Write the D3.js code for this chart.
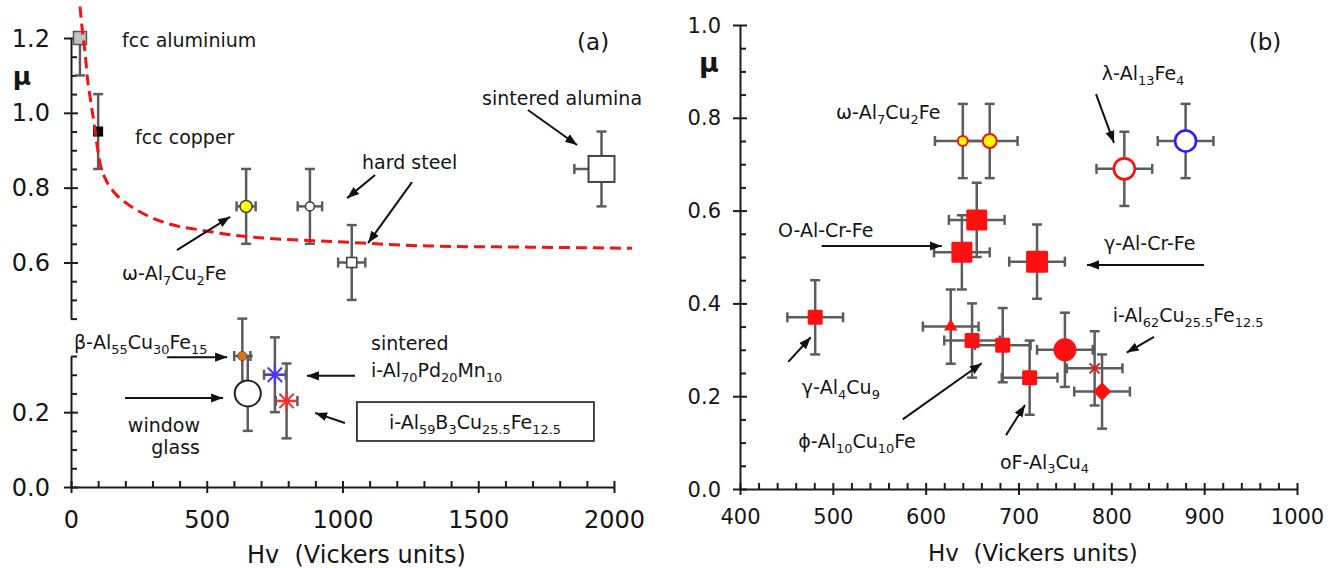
<!DOCTYPE html>
<html>
<head>
<meta charset="utf-8">
<script src="https://cdn.jsdelivr.net/npm/d3@7"></script>
<style>
  body { margin: 0; background: #fff; }
  svg { display: block; }
  text { font-family: "DejaVu Sans", sans-serif; fill: #151515; }
</style>
</head>
<body>
<svg id="fig" width="1339" height="568"></svg>
<script>
// ---------- Panel (a): reference materials ----------
const matA   = ["fcc aluminium", "fcc copper", "omega-Al7Cu2Fe", "hard steel 1", "hard steel 2",
                "sintered alumina", "beta-Al55Cu30Fe15", "window glass",
                "sintered i-Al70Pd20Mn10", "i-Al59B3Cu25.5Fe12.5"];
const hvA    = [33, 100, 645, 880, 1034, 1954, 631, 651, 751, 794];
const muA    = [1.20, 0.95, 0.75, 0.75, 0.60, 0.85, 0.35, 0.25, 0.30, 0.23];
const hvErrA = [0, 0, 35, 45, 50, 100, 30, 30, 40, 40];
const muErrA = [0.10, 0.10, 0.10, 0.10, 0.10, 0.10, 0.10, 0.10, 0.10, 0.10];

// dashed trend curve, read point by point
const curveHv = [33, 43, 52, 60, 72, 85, 95, 107, 129, 162, 205, 266, 352, 475, 598, 721, 966, 1322, 1690, 2066];
const curveMu = [1.284, 1.212, 1.159, 1.096, 1.034, 0.972, 0.918, 0.865, 0.820, 0.785, 0.758, 0.731,
                 0.705, 0.687, 0.673, 0.665, 0.656, 0.644, 0.641, 0.638];

// ---------- Panel (b): Al-based intermetallics ----------
const matB   = ["omega small", "omega large", "O-Al-Cr-Fe", "O-Al-Cr-Fe 2", "gamma-Al-Cr-Fe",
                "lambda-Al13Fe4", "lambda-Al13Fe4 2", "gamma-Al4Cu9", "triangle", "phi-Al10Cu10Fe",
                "square 683", "oF-Al3Cu4", "i-AlCuFe circle", "i-AlCuFe cross", "i-AlCuFe diamond"];
const hvB    = [640, 669, 639, 655, 720, 814, 880, 481, 627, 650, 683, 712, 750, 782, 790];
const muB    = [0.75, 0.75, 0.51, 0.58, 0.49, 0.69, 0.75, 0.37, 0.35, 0.32, 0.31, 0.24, 0.30, 0.26, 0.21];
const hvErrB = [30, 30, 30, 30, 30, 30, 30, 30, 30, 30, 30, 30, 30, 30, 30];
const muErrB = [0.08, 0.08, 0.08, 0.08, 0.08, 0.08, 0.08, 0.08, 0.08, 0.08, 0.08, 0.08, 0.08, 0.08, 0.08];

// tick values
const xTicksA = [0, 500, 1000, 1500, 2000];
const yTicksALow = [0.0, 0.2];
const yTicksAHigh = [0.6, 0.8, 1.0, 1.2];
const xTicksB = [400, 500, 600, 700, 800, 900, 1000];
const yTicksB = [0.0, 0.2, 0.4, 0.6, 0.8, 1.0];

// ---------- marker styles ----------
const RED = "#ff1010";
const styleA = {
  "fcc aluminium":          { shape: "square", s: 13, fill: "#c2c2c2", stroke: "#555", sw: 1.5 },
  "fcc copper":             { shape: "square", s: 9, fill: "#000", stroke: "#000", sw: 1 },
  "omega-Al7Cu2Fe":         { shape: "circle", r: 6, fill: "#ffff00", stroke: "#444", sw: 1.5 },
  "hard steel 1":           { shape: "circle", r: 4.5, fill: "#fff", stroke: "#444", sw: 1.6 },
  "hard steel 2":           { shape: "square", s: 10, fill: "#fff", stroke: "#444", sw: 1.6 },
  "sintered alumina":       { shape: "square", s: 26, fill: "#fff", stroke: "#444", sw: 2 },
  "beta-Al55Cu30Fe15":      { shape: "circle", r: 4.5, fill: "#e8700c", stroke: "#555", sw: 1 },
  "window glass":           { shape: "circle", r: 13, fill: "#fff", stroke: "#222", sw: 2 },
  "sintered i-Al70Pd20Mn10":{ shape: "asterisk", r: 10, stroke: "#4a35ff", sw: 2 },
  "i-Al59B3Cu25.5Fe12.5":   { shape: "asterisk", r: 10, stroke: "#ff2a2a", sw: 2 }
};
const styleB = {
  "omega small":      { shape: "circle", r: 5, fill: "#ffff00", stroke: RED, sw: 2 },
  "omega large":      { shape: "circle", r: 7, fill: "#ffff00", stroke: RED, sw: 2 },
  "O-Al-Cr-Fe":       { shape: "square", s: 21, fill: RED },
  "O-Al-Cr-Fe 2":     { shape: "square", s: 21, fill: RED },
  "gamma-Al-Cr-Fe":   { shape: "square", s: 22, fill: RED },
  "lambda-Al13Fe4":   { shape: "circle", r: 10.5, fill: "#fff", stroke: RED, sw: 2.6 },
  "lambda-Al13Fe4 2": { shape: "circle", r: 10.5, fill: "#fff", stroke: "#2a1cff", sw: 2.6 },
  "gamma-Al4Cu9":     { shape: "square", s: 15, fill: RED },
  "triangle":         { shape: "triangle", s: 12, fill: RED },
  "phi-Al10Cu10Fe":   { shape: "square", s: 15, fill: RED },
  "square 683":       { shape: "square", s: 15, fill: RED },
  "oF-Al3Cu4":        { shape: "square", s: 15, fill: RED },
  "i-AlCuFe circle":  { shape: "circle", r: 11.5, fill: RED },
  "i-AlCuFe cross":   { shape: "x", r: 5, stroke: RED, sw: 2 },
  "i-AlCuFe diamond": { shape: "diamond", s: 13, fill: RED }
};

// ---------- annotations (in data units) ----------
const labelsA = [
  { t: "fcc aluminium", hv: 188, mu: 1.195 },
  { t: "fcc copper", hv: 236, mu: 0.935 },
  { t: "ω-Al_{7}Cu_{2}Fe", hv: 188, mu: 0.572 },
  { t: "hard steel", hv: 1072, mu: 0.8685 },
  { t: "sintered alumina", hv: 1514, mu: 1.04 },
  { t: "β-Al_{55}Cu_{30}Fe_{15}", hv: 11, mu: 0.3875 },
  { t: "window", hv: 475, mu: 0.166, anchor: "end" },
  { t: "glass", hv: 475, mu: 0.107, anchor: "end" },
  { t: "sintered", hv: 1105, mu: 0.385 },
  { t: "i-Al_{70}Pd_{20}Mn_{10}", hv: 1105, mu: 0.313 },
  { t: "i-Al_{59}B_{3}Cu_{25.5}Fe_{12.5}", hv: 1488, mu: 0.174, anchor: "middle" }
];
const arrowsA = [
  [390, 0.633, 586, 0.722],
  [1120, 0.834, 1017, 0.772],
  [1256, 0.815, 1094, 0.652],
  [1683, 1.0075, 1864, 0.914],
  [354, 0.347, 575, 0.347],
  [199, 0.238, 560, 0.238],
  [1046, 0.297, 869, 0.297],
  [1009, 0.171, 899, 0.198]
];
const boxA = [1053, 0.227, 1926, 0.123];

const labelsB = [
  { t: "λ-Al_{13}Fe_{4}", hv: 789.6, mu: 0.8966 },
  { t: "ω-Al_{7}Cu_{2}Fe", hv: 503.4, mu: 0.8125 },
  { t: "O-Al-Cr-Fe", hv: 440.9, mu: 0.558 },
  { t: "γ-Al-Cr-Fe", hv: 792, mu: 0.530 },
  { t: "i-Al_{62}Cu_{25.5}Fe_{12.5}", hv: 801.5, mu: 0.375 },
  { t: "γ-Al_{4}Cu_{9}", hv: 466.5, mu: 0.219 },
  { t: "ϕ-Al_{10}Cu_{10}Fe", hv: 462.8, mu: 0.104 },
  { t: "oF-Al_{3}Cu_{4}", hv: 680, mu: 0.0588 }
];
const arrowsB = [
  [783.5, 0.851, 802.9, 0.746],
  [488, 0.5237, 617.3, 0.5237],
  [899.8, 0.483, 773.8, 0.483],
  [846, 0.328, 816.6, 0.294],
  [452, 0.274, 476.2, 0.327],
  [575.3, 0.150, 660.4, 0.271],
  [686.5, 0.116, 707, 0.181]
];

// ---------- drawing ----------
const svg = d3.select("#fig");
const INK = "#1c1c1c";

svg.append("defs").append("marker")
  .attr("id", "head").attr("viewBox", "0 0 10 10")
  .attr("refX", 10).attr("refY", 5)
  .attr("markerWidth", 12).attr("markerHeight", 12)
  .attr("markerUnits", "userSpaceOnUse").attr("orient", "auto")
  .append("path").attr("d", "M0,1.2 L10,5 L0,8.8 Z").attr("fill", "#111");

const xA = d3.scaleLinear().domain([0, 2000]).range([71, 614]);
const yA = d3.scaleLinear().domain([0, 1.2]).range([487, 38]);
const xB = d3.scaleLinear().domain([400, 1000]).range([740, 1297]);
const yB = d3.scaleLinear().domain([0, 1.0]).range([489, 25]);

function range(a, b, step) {
  const out = [];
  for (let i = 0; a + i * step <= b + 1e-9; i++) out.push(+(a + i * step).toFixed(4));
  return out;
}

function styleAxis(g, size) {
  g.attr("font-family", null).attr("font-size", null);
  g.selectAll("path.domain").attr("stroke", INK).attr("stroke-width", 2);
  g.selectAll(".tick line").attr("stroke", INK).attr("stroke-width", 2);
  g.selectAll(".tick text").attr("font-size", size).attr("fill", "#151515");
}

// x axis with crossing major ticks and inward minor ticks
function xAxis(root, x, y0, majors, minors, size, labelOffset) {
  const g = root.append("g").attr("transform", `translate(0,${y0})`);
  g.append("g").call(d3.axisTop(x).tickValues(minors).tickSize(6).tickSizeOuter(0).tickFormat(""))
    .call(s => s.select("path.domain").remove()).call(s => styleAxis(s, size));
  const ax = g.append("g").call(d3.axisBottom(x).tickValues(majors).tickSize(6).tickSizeOuter(0).tickFormat(d3.format("d")));
  styleAxis(ax, size);
  ax.selectAll(".tick line").attr("y1", -6);
  ax.selectAll(".tick text").attr("y", labelOffset).attr("dy", null).attr("dominant-baseline", "central");
}

// y axis segment with crossing major ticks and inward minor ticks
function ySeg(root, x0, y, lo, hi, majors, minors, size, pad) {
  const s = y.copy().domain([lo, hi]).range([y(lo), y(hi)]);
  const g = root.append("g").attr("transform", `translate(${x0},0)`);
  g.append("g").call(d3.axisRight(s).tickValues(minors).tickSize(6).tickSizeOuter(0).tickFormat(""))
    .call(q => q.select("path.domain").remove()).call(q => styleAxis(q, size));
  const ax = g.append("g").call(d3.axisLeft(s).tickValues(majors).tickSize(7).tickSizeOuter(0)
    .tickPadding(pad).tickFormat(d3.format(".1f")));
  styleAxis(ax, size);
  ax.selectAll(".tick line").attr("x1", 7);
  ax.selectAll(".tick text").attr("dy", null).attr("dominant-baseline", "central");
}

function richText(g, str, x, yc, size, anchor) {
  const t = g.append("text").attr("x", x).attr("y", yc + size * 0.36)
    .attr("font-size", size).attr("text-anchor", anchor || "start");
  const shift = size * 0.26;
  let down = false;
  str.split(/(_\{[^}]*\})/).filter(Boolean).forEach(p => {
    const sub = p.startsWith("_{");
    const ts = t.append("tspan").text(sub ? p.slice(2, -1) : p);
    if (sub) {
      ts.attr("font-size", size * 0.68);
      if (!down) { ts.attr("dy", shift); down = true; }
    } else if (down) {
      ts.attr("dy", -shift); down = false;
    }
  });
  return t;
}

function errorBars(g, x, y, hv, mu, hvErr, muErr) {
  const xd = x.domain(), yd = y.domain();
  const xc = x.copy().clamp(true), yc = y.copy().clamp(true);
  const col = "#5c5c5c", w = 2.5, cap = 5;
  const line = (x1, y1, x2, y2) => g.append("line").attr("x1", x1).attr("y1", y1).attr("x2", x2).attr("y2", y2)
    .attr("stroke", col).attr("stroke-width", w);
  hv.forEach((h, i) => {
    const cx = x(h), cy = y(mu[i]);
    if (muErr[i]) {
      const top = mu[i] + muErr[i], bot = mu[i] - muErr[i];
      line(cx, yc(top), cx, yc(bot));
      if (top <= yd[1]) line(cx - cap, y(top), cx + cap, y(top));
      if (bot >= yd[0]) line(cx - cap, y(bot), cx + cap, y(bot));
    }
    if (hvErr[i]) {
      const lo = h - hvErr[i], hi = h + hvErr[i];
      line(xc(lo), cy, xc(hi), cy);
      if (lo >= xd[0]) line(x(lo), cy - cap, x(lo), cy + cap);
      if (hi <= xd[1]) line(x(hi), cy - cap, x(hi), cy + cap);
    }
  });
}

function drawMarker(g, cx, cy, st) {
  const m = g.append("g").attr("transform", `translate(${cx},${cy})`);
  const paint = sel => sel.attr("fill", st.fill || "none").attr("stroke", st.stroke || "none")
    .attr("stroke-width", st.sw || 0);
  switch (st.shape) {
    case "circle":
      paint(m.append("circle").attr("r", st.r)); break;
    case "square":
      paint(m.append("rect").attr("x", -st.s / 2).attr("y", -st.s / 2).attr("width", st.s).attr("height", st.s)
        .attr("rx", st.stroke ? 0 : 1.5)); break;
    case "diamond":
      paint(m.append("rect").attr("x", -st.s / 2).attr("y", -st.s / 2).attr("width", st.s).attr("height", st.s)
        .attr("transform", "rotate(45)")); break;
    case "triangle":
      paint(m.append("path").attr("d", d3.symbol(d3.symbolTriangle, st.s * st.s * 0.55)())); break;
    case "x": {
      const r = st.r;
      paint(m.append("path").attr("d", `M${-r},${-r}L${r},${r}M${-r},${r}L${r},${-r}`)); break;
    }
    case "asterisk": {
      const r = st.r, d = r * 0.72;
      paint(m.append("path").attr("d",
        `M0,${-r}L0,${r}M${-r},0L${r},0M${-d},${-d}L${d},${d}M${-d},${d}L${d},${-d}`)); break;
    }
  }
}

function arrows(g, x, y, list) {
  list.forEach(a => g.append("line")
    .attr("x1", x(a[0])).attr("y1", y(a[1])).attr("x2", x(a[2])).attr("y2", y(a[3]))
    .attr("stroke", "#111").attr("stroke-width", 2).attr("marker-end", "url(#head)"));
}

// ===== Panel (a) =====
const gA = svg.append("g");
xAxis(gA, xA, yA(0), xTicksA, range(100, 1900, 100).filter(v => v % 500), 24, 33);
ySeg(gA, xA(0), yA, 0, 0.35, yTicksALow, range(0.05, 0.35, 0.05).filter(v => Math.abs(v - 0.2) > 1e-6), 24, 14);
ySeg(gA, xA(0), yA, 0.45, 1.2, yTicksAHigh,
  range(0.45, 1.15, 0.05).filter(v => !yTicksAHigh.some(t => Math.abs(t - v) < 1e-6)), 24, 14);

errorBars(gA, xA, yA, hvA, muA, hvErrA, muErrA);
matA.forEach((name, i) => drawMarker(gA, xA(hvA[i]), yA(muA[i]), styleA[name]));

gA.append("path")
  .datum(curveHv.map((h, i) => [h, curveMu[i]]))
  .attr("d", d3.line().x(d => xA(d[0])).y(d => yA(d[1])).curve(d3.curveMonotoneX))
  .attr("fill", "none").attr("stroke", "#f01414").attr("stroke-width", 3).attr("stroke-dasharray", "11,6");

gA.append("rect")
  .attr("x", xA(boxA[0])).attr("y", yA(boxA[1]))
  .attr("width", xA(boxA[2]) - xA(boxA[0])).attr("height", yA(boxA[3]) - yA(boxA[1]))
  .attr("fill", "none").attr("stroke", "#333").attr("stroke-width", 1.8);

labelsA.forEach(l => richText(gA, l.t, xA(l.hv), yA(l.mu), 19, l.anchor));
arrows(gA, xA, yA, arrowsA);
richText(gA, "(a)", xA(1923), yA(1.189), 23, "middle");
gA.append("text").attr("x", 22).attr("y", 85).attr("text-anchor", "middle")
  .attr("font-size", 25).attr("font-weight", "bold").text("μ");
gA.append("text").attr("x", 247).attr("y", 554 + 24 * 0.36).attr("font-size", 24)
  .style("white-space", "pre").text("Hv  (Vickers units)");

// ===== Panel (b) =====
const gB = svg.append("g");
xAxis(gB, xB, yB(0), xTicksB, range(420, 980, 20).filter(v => v % 100), 21, 28);
ySeg(gB, xB(400), yB, 0, 1.0, yTicksB,
  range(0.05, 0.95, 0.05).filter(v => !yTicksB.some(t => Math.abs(t - v) < 1e-6)), 21, 12);

errorBars(gB, xB, yB, hvB, muB, hvErrB, muErrB);
matB.forEach((name, i) => drawMarker(gB, xB(hvB[i]), yB(muB[i]), styleB[name]));

labelsB.forEach(l => richText(gB, l.t, xB(l.hv), yB(l.mu), 19, l.anchor));
arrows(gB, xB, yB, arrowsB);
richText(gB, "(b)", xB(965.6), yB(0.963), 23, "middle");
gB.append("text").attr("x", 709).attr("y", 72).attr("text-anchor", "middle")
  .attr("font-size", 27).attr("font-weight", "bold").text("μ");
gB.append("text").attr("x", 928).attr("y", 553 + 23 * 0.36).attr("font-size", 23)
  .style("white-space", "pre").text("Hv  (Vickers units)");
</script>
</body>
</html>
